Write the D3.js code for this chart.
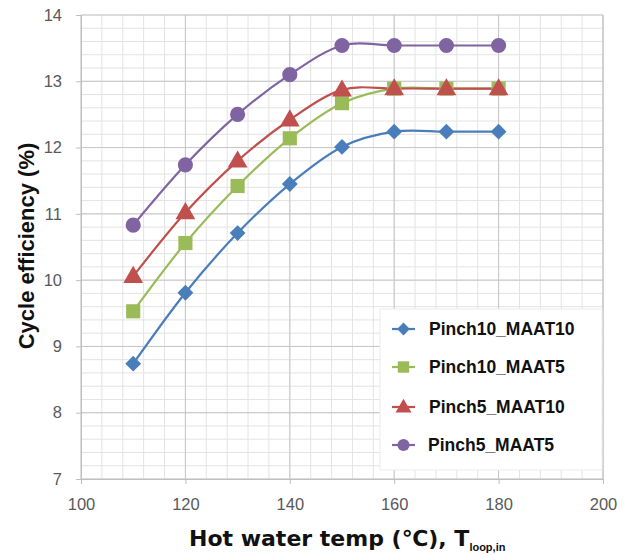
<!DOCTYPE html>
<html>
<head>
<meta charset="utf-8">
<script src="https://cdn.jsdelivr.net/npm/d3@7"></script>
<style>
  body { margin: 0; background: #fff; }
  svg text { font-family: "Liberation Sans", Arial, sans-serif; }
</style>
</head>
<body>
<div class="canvas"></div>
<script>
// data
const temps = [110, 120, 130, 140, 150, 160, 170, 180];
const seriesNames = ["Pinch10_MAAT10", "Pinch10_MAAT5", "Pinch5_MAAT10", "Pinch5_MAAT5"];
const pinch10_maat10 = [8.74, 9.81, 10.71, 11.45, 12.01, 12.24, 12.24, 12.24];
const pinch10_maat5 = [9.53, 10.56, 11.42, 12.14, 12.67, 12.89, 12.89, 12.89];
const pinch5_maat10 = [10.06, 11.02, 11.80, 12.42, 12.87, 12.89, 12.89, 12.89];
const pinch5_maat5 = [10.83, 11.74, 12.50, 13.10, 13.54, 13.54, 13.54, 13.54];
const xTicks = [100, 120, 140, 160, 180, 200];
const yTicks = [7, 8, 9, 10, 11, 12, 13, 14];

const dims = { width: 630, height: 555 };
const colors = ["#4a7ebb", "#9bbb59", "#c0504d", "#8064a2"];
const shapes = [d3.symbolDiamond2, d3.symbolSquare, d3.symbolTriangle, d3.symbolCircle];
const sizes = [160, 200, 170, 180];

var allSeries = [pinch10_maat10, pinch10_maat5, pinch5_maat10, pinch5_maat5];

var svg = d3.select('.canvas')
  .append('svg')
  .attr('width', dims.width)
  .attr('height', dims.height);

var x = d3.scaleLinear().domain([100, 200]).range([81, 603]);
var y = d3.scaleLinear().domain([7, 14]).range([479, 15]);

var graph = svg.append('g');

// minor grid (every 4 on x, every 0.2 on y)
var xMinor = d3.range(100, 200.01, 4);
var yMinor = d3.range(7, 14.01, 0.2);
graph.selectAll('.xminor').data(xMinor).enter().append('line')
  .attr('x1', d => x(d)).attr('x2', d => x(d))
  .attr('y1', y(7)).attr('y2', y(14))
  .attr('stroke', '#e3e3e3').attr('stroke-width', 1);
graph.selectAll('.yminor').data(yMinor).enter().append('line')
  .attr('y1', d => y(d)).attr('y2', d => y(d))
  .attr('x1', x(100)).attr('x2', x(200))
  .attr('stroke', '#e3e3e3').attr('stroke-width', 1);

// major grid
graph.selectAll('.xmajor').data(xTicks).enter().append('line')
  .attr('x1', d => x(d)).attr('x2', d => x(d))
  .attr('y1', y(7)).attr('y2', y(14))
  .attr('stroke', '#c6c6c6').attr('stroke-width', 1);
graph.selectAll('.ymajor').data(yTicks).enter().append('line')
  .attr('y1', d => y(d)).attr('y2', d => y(d))
  .attr('x1', x(100)).attr('x2', x(200))
  .attr('stroke', '#c6c6c6').attr('stroke-width', 1);

// axes
var xAxis = graph.append('g')
  .attr('transform', `translate(0, ${y(7)})`)
  .call(d3.axisBottom(x).tickValues(xTicks).tickFormat(d3.format('d')).tickSize(5).tickPadding(14));
var yAxis = graph.append('g')
  .attr('transform', `translate(${x(100)}, 0)`)
  .call(d3.axisLeft(y).tickValues(yTicks).tickFormat(d3.format('d')).tickSize(5).tickPadding(14));
[xAxis, yAxis].forEach(a => {
  a.select('.domain').attr('stroke', '#bfbfbf');
  a.selectAll('.tick line').attr('stroke', '#bfbfbf');
  a.selectAll('.tick text')
    .attr('fill', '#595959')
    .style('font-size', '16.5px')
    .style('font-family', '"Liberation Sans", Arial, sans-serif');
});

// right border
graph.append('line').attr('x1', x(200)).attr('x2', x(200)).attr('y1', y(7)).attr('y2', y(14)).attr('stroke', '#c6c6c6');

// lines, excel style smoothing
var line = d3.line()
  .x((d, i) => x(temps[i]))
  .y(d => y(d))
  .curve(d3.curveCardinal.tension(0));

allSeries.forEach((s, k) => {
  graph.append('path')
    .datum(s)
    .attr('d', line)
    .attr('fill', 'none')
    .attr('stroke', colors[k])
    .attr('stroke-width', 2.2);
});

allSeries.forEach((s, k) => {
  graph.selectAll('.m' + k).data(s).enter().append('path')
    .attr('class', 'm' + k)
    .attr('d', d3.symbol().type(shapes[k]).size(sizes[k])())
    .attr('transform', (d, i) => `translate(${x(temps[i])},${y(d) + (k == 2 ? 1 : 0)})`)
    .attr('fill', colors[k]);
});

// legend
var legend = svg.append('g');
legend.append('rect')
  .attr('x', 380).attr('y', 309)
  .attr('width', 222).attr('height', 161)
  .attr('fill', '#fff')
  .attr('stroke', '#ececec');
var legendY = [329, 367, 407, 445];
seriesNames.forEach((name, k) => {
  var g = legend.append('g').attr('transform', `translate(0, ${legendY[k]})`);
  g.append('line').attr('x1', 392).attr('x2', 415).attr('y1', 0).attr('y2', 0)
    .attr('stroke', colors[k]).attr('stroke-width', 2.2);
  g.append('path')
    .attr('d', d3.symbol().type(shapes[k]).size(sizes[k] * 0.65)())
    .attr('transform', `translate(403.5, ${k == 2 ? 1 : 0})`)
    .attr('fill', colors[k]);
  g.append('text')
    .attr('x', k == 3 ? 428 : 429).attr('y', 6)
    .attr('fill', '#111')
    .style('font-size', '17.5px')
    .style('font-weight', 'bold')
    .text(name);
});

// axis titles
var xTitle = svg.append('text')
  .attr('x', 189).attr('y', 546)
  .attr('fill', '#111')
  .style('font-family', '"DejaVu Sans", sans-serif')
  .style('font-size', '22px')
  .style('font-weight', 'bold');
xTitle.append('tspan').text('Hot water temp (℃), T');
xTitle.append('tspan').attr('dy', 5)
  .style('font-family', '"Liberation Sans", Arial, sans-serif')
  .style('font-size', '11px').text('loop,in');

svg.append('text')
  .attr('transform', 'translate(34, 246) rotate(-90)')
  .attr('text-anchor', 'middle')
  .attr('fill', '#111')
  .style('font-size', '22px')
  .style('font-weight', 'bold')
  .text('Cycle efficiency (%)');
</script>
</body>
</html>
